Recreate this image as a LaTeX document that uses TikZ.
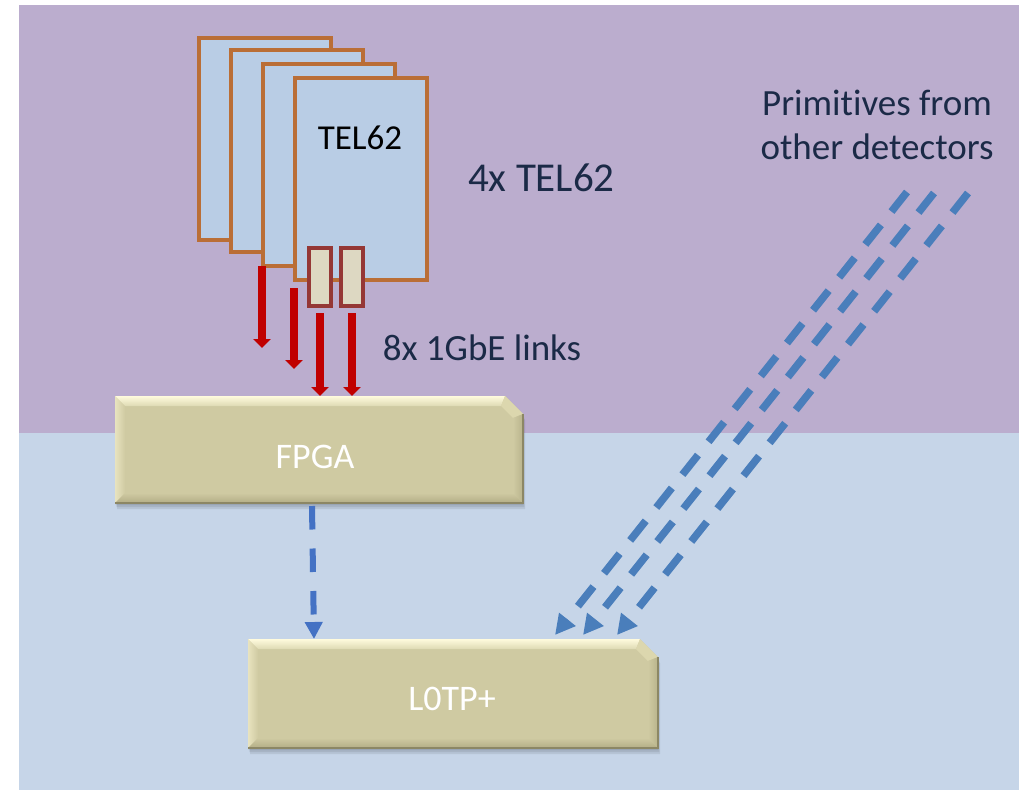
\documentclass[tikz,border=0pt]{standalone}
\usepackage{fontspec}
\setmainfont{Carlito}[Ligatures=NoCommon]
\usetikzlibrary{arrows.meta,calc}

\definecolor{bgpurple}{HTML}{BBADCE}
\definecolor{bgblue}{HTML}{C6D5E8}
\definecolor{boardfill}{HTML}{B9CDE5}
\definecolor{boardedge}{HTML}{BA6E36}
\definecolor{portfill}{HTML}{DDD8C2}
\definecolor{portedge}{HTML}{953735}
\definecolor{linkred}{HTML}{C00000}
\definecolor{flowblue}{HTML}{4472C4}
\definecolor{primblue}{HTML}{4A7EBB}
\definecolor{navy}{HTML}{1B2A47}
\definecolor{face}{HTML}{CFCAA2}
\definecolor{bevtop}{HTML}{FFFBDD}
\definecolor{bevtopb}{HTML}{DEDAB4}
\definecolor{bevcorner}{HTML}{DCD7AE}
\definecolor{bevleft}{HTML}{E8E3BF}
\definecolor{bevright}{HTML}{B8B38C}
\definecolor{bevbottom}{HTML}{B3AD86}
\definecolor{boxrim}{HTML}{8C8765}

% bevelled block with a cut top-right corner, drawn around an empty frame node
\newcommand\bevelbox[1]{%
  \path (#1.north west) coordinate (#1-nw) (#1.north east) coordinate (#1-ne)
        (#1.south east) coordinate (#1-se) (#1.south west) coordinate (#1-sw);
  \foreach \sh in {2,4,6}{%
    \fill[black, opacity=0.08] ($(#1-nw)+(\sh/3,\sh)$) -- ($(#1-ne)+(\sh/3-18,\sh)$)
      -- ($(#1-ne)+(\sh/3,\sh+18)$) -- ($(#1-se)+(\sh/3,\sh)$) -- ($(#1-sw)+(\sh/3,\sh)$) -- cycle;}
  \fill[face] (#1-nw) -- ($(#1-ne)+(-18,0)$) -- ($(#1-ne)+(0,18)$) -- (#1-se) -- (#1-sw) -- cycle;
  \shade[top color=bevtop, bottom color=bevtopb] (#1-nw) -- ($(#1-ne)+(-18,0)$)
      -- ($(#1-ne)+(-22,10)$) -- ($(#1-nw)+(10,10)$) -- cycle;
  \fill[bevcorner] ($(#1-ne)+(-18,0)$) -- ($(#1-ne)+(0,18)$) -- ($(#1-ne)+(-10,22)$)
      -- ($(#1-ne)+(-22,10)$) -- cycle;
  \shade[left color=bevleft, right color=face] (#1-nw) -- ($(#1-nw)+(10,10)$)
      -- ($(#1-sw)+(10,-10)$) -- (#1-sw) -- cycle;
  \shade[left color=face, right color=bevright] ($(#1-ne)+(0,18)$) -- (#1-se)
      -- ($(#1-se)+(-10,-10)$) -- ($(#1-ne)+(-10,22)$) -- cycle;
  \shade[top color=face, bottom color=bevbottom] (#1-sw) -- (#1-se)
      -- ($(#1-se)+(-10,-10)$) -- ($(#1-sw)+(10,-10)$) -- cycle;
  \draw[boxrim, line width=1.5pt] ($(#1-ne)+(0,18)$) -- (#1-se) -- (#1-sw);
}

\begin{document}
\begin{tikzpicture}[x=1pt, y=-1pt, every node/.style={outer sep=0pt},
  board/.style={draw=boardedge, fill=boardfill, line width=4pt,
    minimum width=132pt, minimum height=202pt, inner sep=0pt},
  port/.style={draw=portedge, fill=portfill, line width=4pt,
    minimum width=22pt, minimum height=58pt, inner sep=0pt},
  boxframe/.style={inner sep=0pt, draw=none},
  boxtext/.style={text=white, inner sep=0pt, font=\fontsize{36}{43}\selectfont},
  note/.style={text=navy, inner sep=0pt, font=\fontsize{37}{44}\selectfont},
  link/.style={draw=linkred, line width=8.7pt, -{Triangle[width=17pt,length=9pt]}},
  flow/.style={draw=flowblue, line width=6pt, dash pattern=on 23.5pt off 19pt,
    -{Triangle[width=17pt,length=17pt]}},
  prim/.style={draw=primblue, line width=7.5pt, dash pattern=on 25pt off 17pt,
    -{Triangle[width=20pt,length=20pt]}}]

\useasboundingbox (0,0) rectangle (1019,790);
% two bands of the backdrop
\fill[bgpurple] (19,5) rectangle (1019,433);
\fill[bgblue] (19,433) rectangle (1019,790);

% stack of four readout boards
\node[board] (b1) at (265,139) {};
\node[board] (b2) at (297,150.5) {};
\node[board] (b3) at (329,165) {};
\node[board] (b4) at (361,179) {};
\node[inner sep=0pt, text=black, font=\fontsize{35}{42}\selectfont] (tel62) at (360,138) {TEL62};

% output ports on the front board
\node[port] (p1) at (320,277) {};
\node[port] (p2) at (352,277) {};

% processing blocks
\node[boxframe, minimum width=408pt, minimum height=107pt] (fpga) at (319,449.5) {};
\bevelbox{fpga}
\node[boxtext] (fpgatxt) at (315,457) {FPGA};

\node[boxframe, minimum width=410pt, minimum height=109pt] (lotp) at (453,693.5) {};
\bevelbox{lotp}
\node[boxtext] (lotptxt) at (452,699) {L0TP+};

% gigabit links
\coordinate (l1e) at (262,348);
\coordinate (l2e) at (294,369);
\draw[link] ([xshift=-1pt]b3.south west) -- (l1e);
\draw[link] ([xshift=-1pt,yshift=-8pt]b4.south west) -- (l2e);
\draw[link] ([yshift=-7pt]p1.south) -- (p1.south |- fpga.north);
\draw[link] ([yshift=-7pt]p2.south) -- (p2.south |- fpga.north);

% FPGA to trigger processor
\draw[flow] ([xshift=-7pt,yshift=-3pt]fpga.south) -- ([xshift=-139pt]lotp.north);

% primitives from the other detectors
\coordinate (s1) at (907,192);
\coordinate (s2) at (934,193);
\coordinate (s3) at (968,193);
\draw[prim] (s1) -- ([xshift=102pt,yshift=4pt]lotp.north);
\draw[prim] (s2) -- ([xshift=130pt,yshift=4pt]lotp.north);
\draw[prim] (s3) -- ([xshift=164pt,yshift=4pt]lotp.north);

% labels
\node[note, font=\fontsize{41}{48}\selectfont] (count) at (541.5,178) {4x TEL62};
\node[note] (links) at (482,348) {8x 1GbE links};
\node[note, align=center] (primtxt) at (877,125) {Primitives from\\other detectors};
\end{tikzpicture}
\end{document}
